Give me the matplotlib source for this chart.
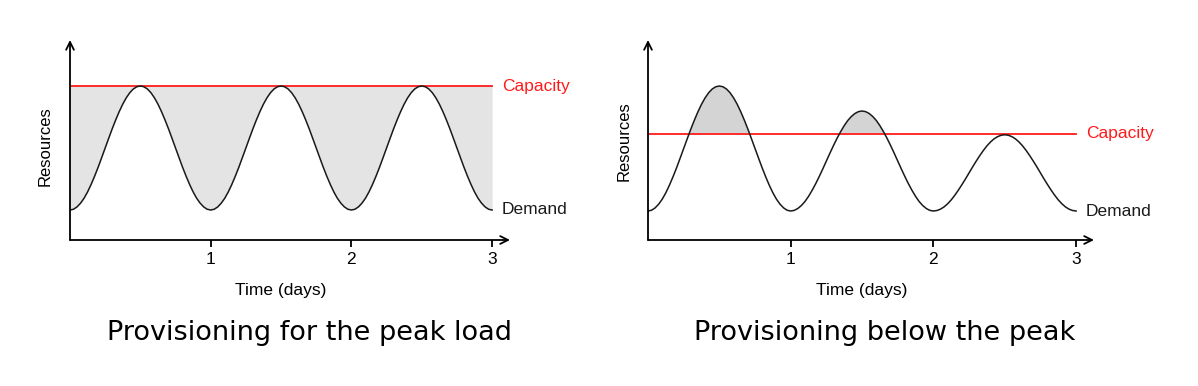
import matplotlib
matplotlib.use("Agg")
import matplotlib.pyplot as plt

# ---- data ----
time_days = [i * 0.025 for i in range(121)]

# Left panel: demand peaks reach the capacity line
demand_peak = [
    0.000, 0.006, 0.025, 0.055, 0.095, 0.146, 0.206, 0.273, 0.345, 0.422,
    0.500, 0.578, 0.655, 0.727, 0.794, 0.854, 0.905, 0.946, 0.976, 0.994,
    1.000, 0.994, 0.976, 0.946, 0.905, 0.854, 0.794, 0.727, 0.655, 0.578,
    0.500, 0.422, 0.345, 0.273, 0.206, 0.146, 0.095, 0.055, 0.025, 0.006,
    0.000, 0.006, 0.025, 0.055, 0.095, 0.146, 0.206, 0.273, 0.345, 0.422,
    0.500, 0.578, 0.655, 0.727, 0.794, 0.854, 0.905, 0.946, 0.976, 0.994,
    1.000, 0.994, 0.976, 0.946, 0.905, 0.854, 0.794, 0.727, 0.655, 0.578,
    0.500, 0.422, 0.345, 0.273, 0.206, 0.146, 0.095, 0.055, 0.025, 0.006,
    0.000, 0.006, 0.025, 0.055, 0.095, 0.146, 0.206, 0.273, 0.345, 0.422,
    0.500, 0.578, 0.655, 0.727, 0.794, 0.854, 0.905, 0.946, 0.976, 0.994,
    1.000, 0.994, 0.976, 0.946, 0.905, 0.854, 0.794, 0.727, 0.655, 0.578,
    0.500, 0.422, 0.345, 0.273, 0.206, 0.146, 0.095, 0.055, 0.025, 0.006,
    0.000]
capacity_peak = 1.00

# Right panel: peaks shrink day by day, capacity set below the first peaks
demand_below = [
    0.000, 0.006, 0.025, 0.055, 0.095, 0.146, 0.206, 0.273, 0.345, 0.422,
    0.500, 0.578, 0.655, 0.727, 0.794, 0.854, 0.905, 0.946, 0.976, 0.994,
    1.000, 0.994, 0.976, 0.946, 0.905, 0.854, 0.794, 0.727, 0.655, 0.578,
    0.500, 0.422, 0.345, 0.273, 0.206, 0.146, 0.095, 0.055, 0.025, 0.006,
    0.000, 0.005, 0.020, 0.044, 0.076, 0.117, 0.165, 0.218, 0.276, 0.337,
    0.400, 0.463, 0.524, 0.582, 0.635, 0.683, 0.724, 0.756, 0.780, 0.795,
    0.800, 0.795, 0.780, 0.756, 0.724, 0.683, 0.635, 0.582, 0.524, 0.463,
    0.400, 0.337, 0.276, 0.218, 0.165, 0.117, 0.076, 0.044, 0.020, 0.005,
    0.000, 0.004, 0.015, 0.033, 0.058, 0.089, 0.126, 0.167, 0.211, 0.257,
    0.305, 0.353, 0.399, 0.443, 0.484, 0.521, 0.552, 0.577, 0.595, 0.606,
    0.610, 0.606, 0.595, 0.577, 0.552, 0.521, 0.484, 0.443, 0.399, 0.353,
    0.305, 0.257, 0.211, 0.167, 0.126, 0.089, 0.058, 0.033, 0.015, 0.004,
    0.000]
capacity_below = 0.62

x_ticks = [1, 2, 3]
x_label = "Time (days)"
y_label = "Resources"
titles = ["Provisioning for the peak load", "Provisioning below the peak"]

# ---- figure ----
W, H = 1198, 386
fig = plt.figure(figsize=(W / 100, H / 100), dpi=100)

label_font = ["Liberation Sans", "DejaVu Sans"]


def make_panel(px_left, px_right, px_per_day, px_per_unit, px_zero, demand,
               capacity, fill_color, above_only, title, title_x, ylab_x, ylab_y):
    ax = fig.add_axes([px_left / W, (H - 240) / H, (px_right - px_left) / W, 200 / H])
    ax.set_xlim(0, (px_right - px_left) / px_per_day)
    ax.set_ylim(-(240 - px_zero) / px_per_unit, (px_zero - 40) / px_per_unit)
    for s in ax.spines.values():
        s.set_visible(False)
    ax.set_yticks([])
    ax.set_xticks(x_ticks)
    ax.set_xticklabels([str(t) for t in x_ticks], fontsize=12.5, family=label_font)
    ax.tick_params(axis="x", direction="out", length=5, width=1.3, pad=4, color="black")
    # axes with arrows
    ax.annotate("", xy=(1, 0), xytext=(0, 0), xycoords="axes fraction",
                arrowprops=dict(arrowstyle="->", lw=1.3, color="black",
                                shrinkA=0, shrinkB=0, mutation_scale=14))
    ax.annotate("", xy=(0, 1), xytext=(0, 0), xycoords="axes fraction",
                arrowprops=dict(arrowstyle="->", lw=1.3, color="black",
                                shrinkA=0, shrinkB=0, mutation_scale=14))
    cap = [capacity] * len(time_days)
    if above_only:
        ax.fill_between(time_days, demand, cap,
                        where=[d > capacity for d in demand], interpolate=True,
                        color=fill_color, lw=0)
    else:
        ax.fill_between(time_days, demand, cap, color=fill_color, lw=0)
    ax.plot(time_days, cap, color="#ff1a1a", lw=1.3)
    ax.plot(time_days, demand, color="#1a1a1a", lw=1.1)
    ax.text(3.07, capacity, "Capacity", color="#ff1a1a", fontsize=12.5,
            family=label_font, va="center", ha="left")
    ax.text(3.07, demand[-1], "Demand", color="#1a1a1a", fontsize=12.5,
            family=label_font, va="center", ha="left")
    fig.text(ylab_x / W, 1 - ylab_y / H, y_label, rotation=90, fontsize=12,
             family=label_font, ha="center", va="center")
    fig.text((px_left + 1.5 * px_per_day) / W, 1 - 290 / H, x_label, fontsize=12.5,
             family=label_font, ha="center", va="center")
    fig.text(title_x / W, 1 - 333 / H, title, fontsize=19.5,
             family=["DejaVu Sans"], ha="center", va="center")
    return ax


make_panel(70, 510, 140.7, 124, 210, demand_peak, capacity_peak,
           "#e4e4e4", False, titles[0], 309, 45, 146)
make_panel(648, 1094, 142.7, 125, 211, demand_below, capacity_below,
           "#d4d4d4", True, titles[1], 885, 624, 141)

fig.savefig("out.png", dpi=100)
